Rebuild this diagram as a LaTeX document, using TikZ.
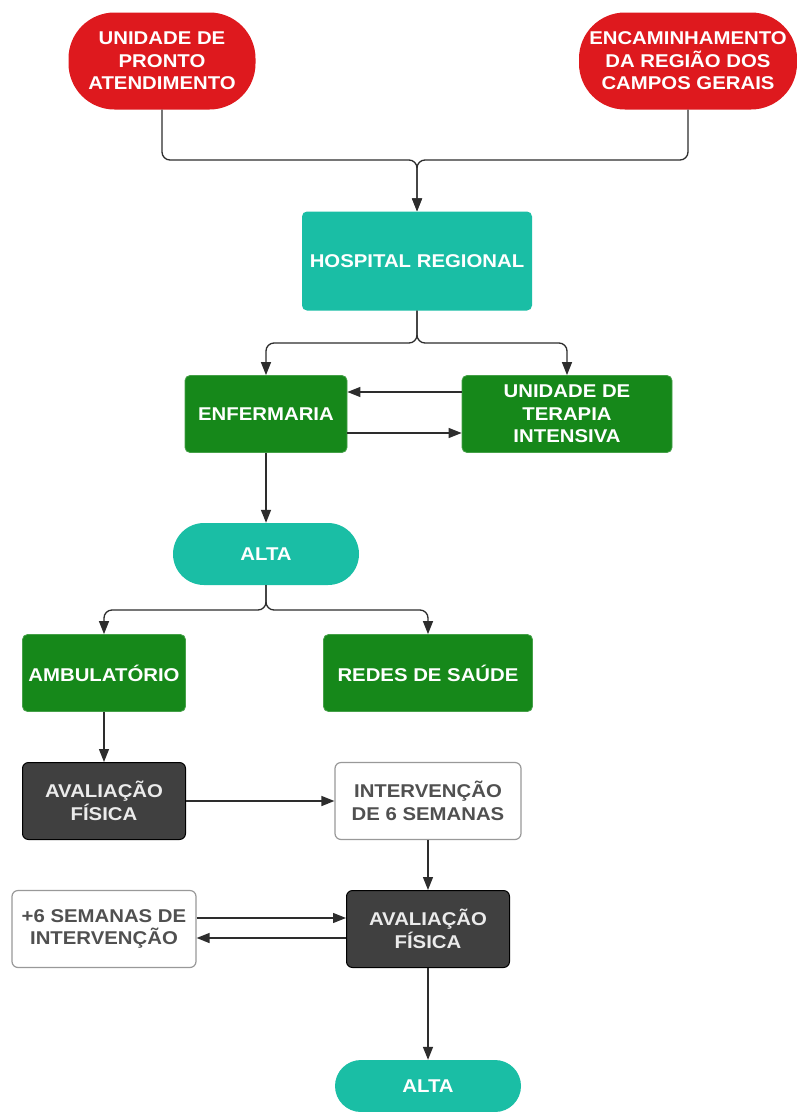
\documentclass[tikz,border=0pt]{standalone}
\usepackage{fontspec}
\setmainfont{Liberation Sans}[FakeStretch=1.1]
\usetikzlibrary{arrows.meta}
\definecolor{cRed}{RGB}{222,25,30}
\definecolor{cTeal}{RGB}{26,190,165}
\definecolor{cGreen}{RGB}{22,136,26}
\definecolor{cDark}{RGB}{64,64,64}
\definecolor{cLine}{RGB}{45,45,45}
\definecolor{cTxt}{RGB}{80,80,80}
\begin{document}
\begin{tikzpicture}[x=1pt,y=-1pt,
  base/.style={font=\bfseries\fontsize{18.5}{22.5}\selectfont, align=center, inner sep=0pt, text=white, rectangle},
  redn/.style={base, fill=cRed, rounded corners=46pt, minimum width=187pt, minimum height=97pt},
  tealbox/.style={base, fill=cTeal, rounded corners=5pt},
  greenbox/.style={base, fill=cGreen, draw=cGreen!80!white, line width=0.8pt, rounded corners=5pt, minimum height=77pt},
  darkbox/.style={base, fill=cDark, draw=black, line width=1pt, rounded corners=6pt, text=white!92!black, minimum width=163pt, minimum height=77pt},
  whitebox/.style={base, fill=white, draw=black!40, line width=1.2pt, rounded corners=6pt, text=cTxt, minimum height=77pt},
  arr/.style={draw=cLine, line width=1.3pt, -{Triangle[length=13pt,width=10pt]}, rounded corners=8pt}
]
\useasboundingbox (0,0) rectangle (797,1112);
\fill[white] (0,0) rectangle (797,1112);

\node[redn] (upa) at (162,61) {UNIDADE DE\\PRONTO\\ATENDIMENTO};
\node[redn, minimum width=218pt] (enc) at (688,61) {ENCAMINHAMENTO\\DA REGIÃO DOS\\CAMPOS GERAIS};
\node[tealbox, minimum width=230pt, minimum height=99pt] (hosp) at (417,261) {HOSPITAL REGIONAL};
\node[greenbox, minimum width=162pt] (enf) at (266,414) {ENFERMARIA};
\node[greenbox, minimum width=210pt] (uti) at (567,414) {UNIDADE DE\\TERAPIA\\INTENSIVA};
\node[tealbox, rounded corners=31pt, minimum width=186pt, minimum height=62pt] (alta1) at (266,554) {ALTA};
\node[greenbox, minimum width=163pt] (amb) at (104,673) {AMBULATÓRIO};
\node[greenbox, minimum width=209pt] (redes) at (428,673) {REDES DE SAÚDE};
\node[darkbox] (av1) at (104,801) {AVALIAÇÃO\\FÍSICA};
\node[whitebox, minimum width=186pt] (int) at (428,801) {INTERVENÇÃO\\DE 6 SEMANAS};
\node[darkbox] (av2) at (428,929) {AVALIAÇÃO\\FÍSICA};
\node[whitebox, minimum width=184pt] (plus) at (104,929) {+6 SEMANAS DE\\INTERVENÇÃO};
\node[tealbox, rounded corners=26pt, minimum width=186pt, minimum height=52pt] (alta2) at (428,1086) {ALTA};

\coordinate (j1) at (417,160);
\coordinate (j2) at (417,343);
\coordinate (j3) at (266,610);

\draw[arr] (upa.south) |- (j1) -- (hosp.north);
\draw[arr] (enc.south) |- (j1) -- (hosp.north);
\draw[arr] (hosp.south) -- (j2) -| (enf.north);
\draw[arr] (hosp.south) -- (j2) -| (uti.north);
\draw[arr] ([yshift=22pt]uti.west) -- ([yshift=22pt]enf.east);
\draw[arr] ([yshift=-19pt]enf.east) -- ([yshift=-19pt]uti.west);
\draw[arr] (enf.south) -- (alta1.north);
\draw[arr] (alta1.south) -- (j3) -| (amb.north);
\draw[arr] (alta1.south) -- (j3) -| (redes.north);
\draw[arr] (amb.south) -- (av1.north);
\draw[arr] (av1.east) -- (int.west);
\draw[arr] (int.south) -- (av2.north);
\draw[arr] ([yshift=11pt]plus.east) -- ([yshift=11pt]av2.west);
\draw[arr] ([yshift=-9pt]av2.west) -- ([yshift=-9pt]plus.east);
\draw[arr] (av2.south) -- (alta2.north);
\end{tikzpicture}
\end{document}
